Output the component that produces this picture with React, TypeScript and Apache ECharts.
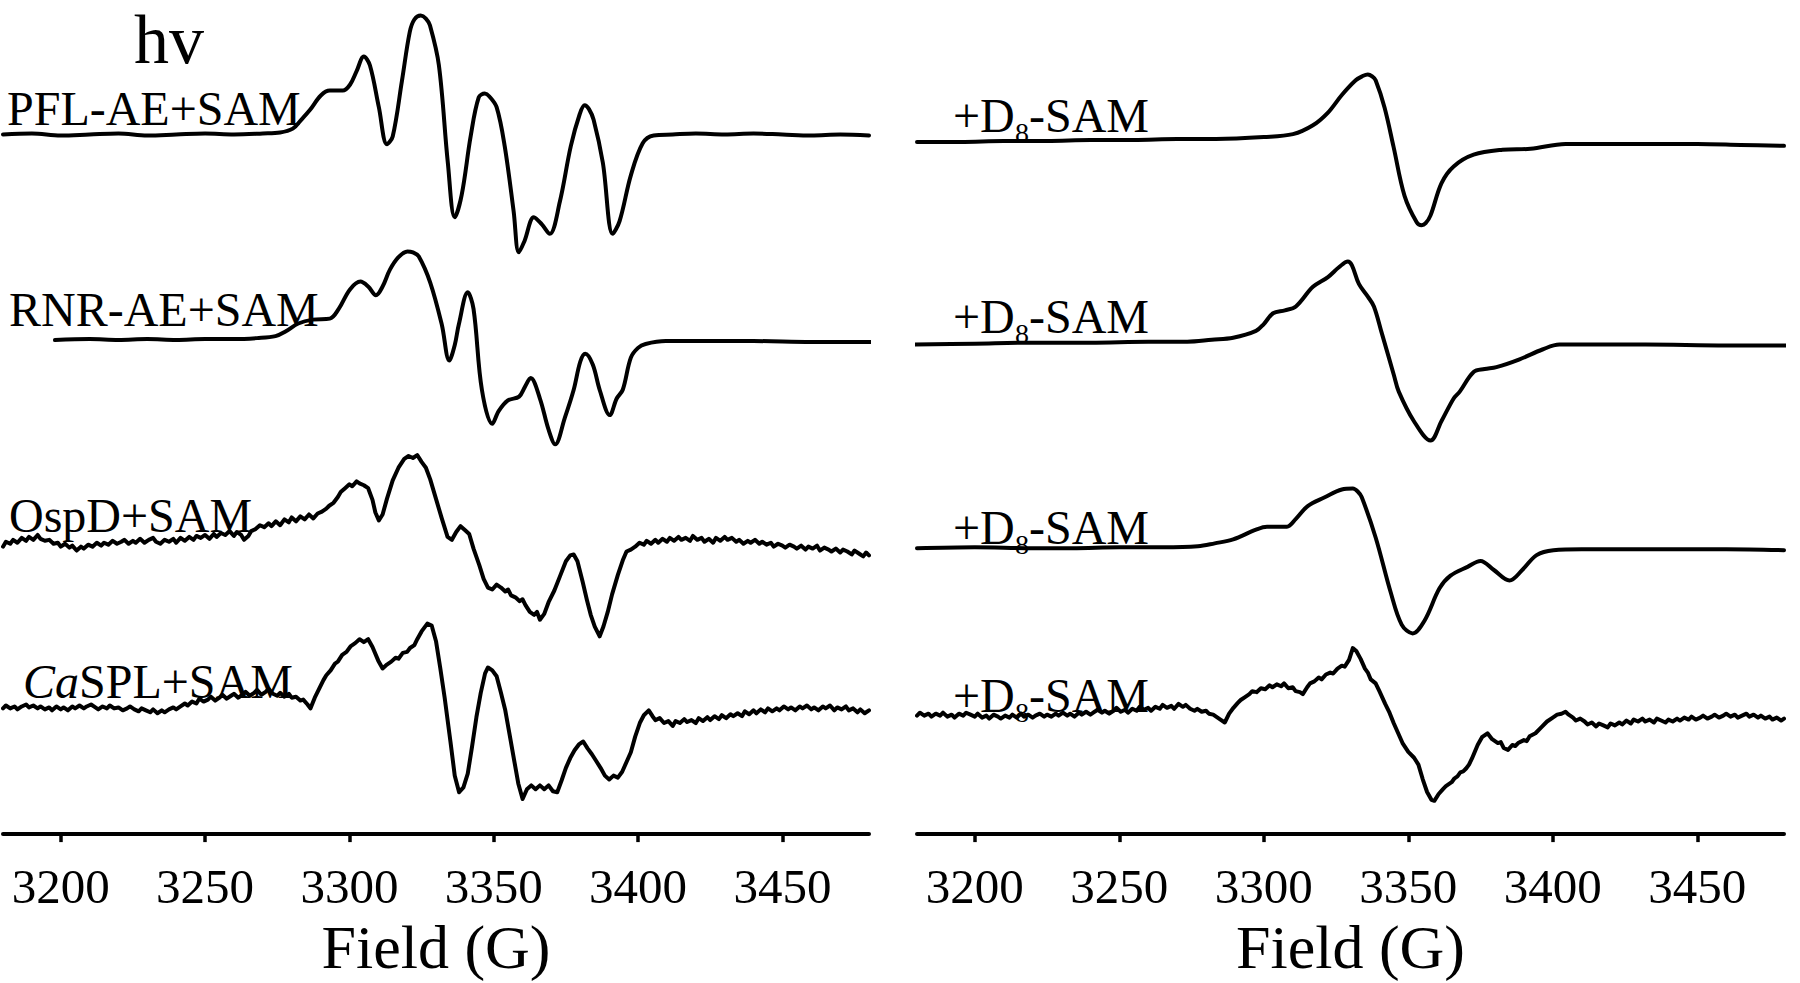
import React, { useEffect, useRef } from "react";
import * as echarts from "echarts";

// ---------- data ----------
const fieldMin = 3180;
const fieldMax = 3480;
const tickValues = [3200, 3250, 3300, 3350, 3400, 3450];
const axisTitle = "Field (G)";
const panelTitle = "hv";

const leftLabels = ["PFL-AE+SAM", "RNR-AE+SAM", "OspD+SAM", "SPL+SAM"];
const leftItalicPrefix = ["", "", "", "Ca"];
const rightLabelParts = ["+D", "8", "-SAM"];

// signal (arbitrary units) vs field (G)
const pflAe = [
  [3180, 0], [3190, 1], [3200, -1], [3210, 0], [3220, 1], [3230, -1], [3240, 0], [3250, 1], [3260, 0], [3270, 1],
  [3276, 2], [3280.4, 6], [3283, 14], [3286.3, 25], [3290.1, 40], [3293.2, 45], [3297.7, 45], [3300.2, 51],
  [3302.5, 65], [3305, 80], [3307.1, 71], [3310.2, 28], [3313, -10], [3315, -2], [3318.2, 55], [3320.9, 105],
  [3322.5, 118], [3324.7, 122], [3326.5, 119], [3327.9, 112], [3331, 71], [3334.1, -29], [3336.5, -85],
  [3338.9, -62], [3342, -2], [3344.8, 38], [3346.9, 42], [3348.5, 39], [3351, 28], [3353.8, -12], [3356.9, -79],
  [3358.7, -121], [3360.7, -109], [3363.9, -85], [3366.6, -92], [3369.4, -102], [3372.9, -69], [3376.7, -12],
  [3379.8, 21], [3381.5, 30], [3383, 26], [3384.6, 15], [3387.8, -29], [3391.2, -102], [3393.6, -89],
  [3397.5, -42], [3401.6, -9], [3405.4, -1], [3412, 0], [3420, 1], [3430, 0], [3440, 1], [3450, 0], [3460, -1],
  [3470, 0], [3480, -1],
];

const rnrAe = [
  [3198, 0], [3210, 1], [3220, 0], [3230, 1], [3240, 0], [3250, 1], [3260, 1], [3268, 2], [3274.4, 4], [3278, 9],
  [3282.3, 17], [3287.3, 21], [3293.2, 22], [3296.3, 32], [3300.2, 52], [3303.8, 60], [3306.5, 55], [3309.2, 46],
  [3311.5, 55], [3314, 72], [3317, 85], [3320.1, 91], [3322, 90], [3324, 86], [3328, 59], [3332, 16],
  [3334.6, -21], [3336.5, -5], [3337.9, 16], [3341, 49], [3343, 32], [3345.9, -51], [3349.5, -86], [3351.7, -73],
  [3354.9, -62], [3358.8, -58], [3360.8, -48], [3362.8, -39], [3366, -60], [3369, -92], [3371.3, -107],
  [3374.6, -80], [3377.7, -51], [3380, -22], [3381.7, -14], [3384.3, -25], [3386.7, -51], [3390.2, -77],
  [3392.6, -60], [3394.7, -51], [3397.5, -18], [3400, -8], [3402.6, -4], [3409.6, -1], [3420, -1], [3440, -1],
  [3460, -2], [3483, -2],
];

const ospD = [
  [3180, -3], [3181, 2], [3182.5, 0], [3183.5, 4], [3185, 1], [3186.5, 6], [3188, 3], [3189, 7], [3190.5, 4],
  [3192, 9], [3193, 5], [3194.5, 3], [3196, 4], [3197.5, 0], [3199, 1], [3200, -3], [3201.5, 0], [3203, -4],
  [3204, -2], [3205.5, -7], [3207, -3], [3208, -5], [3209.5, -1], [3211, -3], [3212.5, 1], [3214, -2], [3215, 1],
  [3216.5, -1], [3218, 3], [3219.5, 0], [3221, 2], [3222, 4], [3223.5, 0], [3225, 3], [3226, 1], [3227.5, 5],
  [3229, 1], [3230.5, 4], [3232, 6], [3233, 2], [3234.5, 0], [3236, 4], [3237.5, 2], [3239, 5], [3240, 1],
  [3241.5, 6], [3243, 3], [3244.5, 7], [3246, 4], [3247, 8], [3248.5, 6], [3250, 9], [3251.5, 5], [3253, 10],
  [3254, 7], [3255.5, 11], [3257, 9], [3258.5, 13], [3260, 8], [3261, 12], [3262.5, 9], [3263.5, 4], [3265, 8],
  [3266, 13], [3267.5, 15], [3269, 19], [3270.5, 17], [3272, 21], [3273, 18], [3274.5, 23], [3276, 19],
  [3277.5, 25], [3279, 22], [3280, 27], [3281.5, 23], [3283, 28], [3284.5, 25], [3286, 30], [3287.5, 26],
  [3289, 31], [3290.5, 33], [3292, 36], [3293, 39], [3294.5, 42], [3296, 48], [3297, 53], [3298.5, 57],
  [3300, 61], [3301, 59], [3302.5, 64], [3303.5, 62], [3305, 60], [3306.5, 57], [3308, 45], [3309, 32],
  [3310.2, 24], [3311.5, 30], [3313, 46], [3315, 65], [3317, 78], [3319, 87], [3320.5, 90], [3322, 88],
  [3323.5, 91], [3325, 84], [3326.5, 78], [3328, 66], [3330, 46], [3332, 26], [3334, 7], [3335.5, 4], [3337, 12],
  [3338.5, 18], [3340, 14], [3341.5, 10], [3343, -5], [3345, -22], [3346.5, -36], [3348, -45], [3349.5, -47],
  [3351, -42], [3352.5, -45], [3354, -49], [3355, -47], [3356, -53], [3357.5, -55], [3359, -59], [3360, -57],
  [3361, -63], [3362.5, -70], [3364, -73], [3365, -70], [3366, -78], [3367.5, -72], [3369, -60], [3371, -48],
  [3373, -33], [3375, -18], [3376.5, -12], [3377.7, -11], [3379, -18], [3380.8, -39], [3382.3, -58],
  [3383.6, -73], [3385, -85], [3386.7, -95], [3388, -85], [3389.5, -70], [3391, -52], [3393, -32], [3394.7, -17],
  [3396, -8], [3397.5, -6], [3399, -3], [3400.5, 1], [3402, -1], [3403, 3], [3404.5, 0], [3406, 4], [3407, 1],
  [3408.5, 5], [3410, 2], [3411, 6], [3412.5, 3], [3414, 7], [3415, 4], [3416.5, 6], [3418, 3], [3419, 8],
  [3420.5, 4], [3422, 6], [3423, 2], [3424.5, 5], [3426, 1], [3427, 6], [3428.5, 3], [3430, 7], [3431, 4],
  [3432.5, 6], [3434, 2], [3435, 4], [3436.5, 0], [3438, 3], [3439, 1], [3440.5, 4], [3442, 0], [3443, 2],
  [3444.5, -1], [3446, 1], [3447, -3], [3448.5, 0], [3450, -2], [3451, -4], [3452.5, -1], [3454, -3], [3455, -5],
  [3456.5, -2], [3458, -6], [3459, -3], [3460.5, -5], [3462, -2], [3463, -7], [3464.5, -4], [3466, -6],
  [3467, -8], [3468.5, -5], [3470, -9], [3471, -6], [3472.5, -8], [3474, -11], [3475, -7], [3476.5, -10],
  [3478, -13], [3479, -9], [3480, -12],
];

const caSpl = [
  [3180, -1], [3181, 2], [3182.5, -1], [3184, 1], [3185, -2], [3186.5, 1], [3188, 3], [3189, 0], [3190.5, 2],
  [3192, -1], [3193, 1], [3194.5, -2], [3196, 0], [3197, -3], [3198.5, 1], [3200, -2], [3201, 0], [3202.5, -3],
  [3204, 1], [3205, -1], [3206.5, 2], [3208, -1], [3209, 1], [3210.5, 3], [3212, 0], [3213, -2], [3214.5, 1],
  [3216, -1], [3217, 2], [3218.5, -1], [3220, 0], [3221.5, -3], [3223, -1], [3224, 1], [3225.5, -2], [3227, -4],
  [3228, -1], [3229.5, -3], [3231, -5], [3232, -2], [3233.5, -6], [3235, -3], [3236, -5], [3237.5, -2],
  [3239, 0], [3240, -2], [3241.5, 1], [3243, 4], [3244, 2], [3245.5, 6], [3247, 4], [3248, 9], [3249.5, 6],
  [3251, 8], [3252, 11], [3253.5, 7], [3255, 10], [3256, 13], [3257.5, 9], [3259, 12], [3260, 14], [3261.5, 10],
  [3263, 13], [3264, 16], [3265.5, 12], [3267, 15], [3268, 18], [3269.5, 13], [3271, 16], [3272, 19],
  [3273.5, 14], [3275, 12], [3276, 15], [3277.5, 11], [3279, 14], [3280, 10], [3281.5, 11], [3283, 7], [3284, 8],
  [3285.5, 3], [3286.5, -1], [3288, 10], [3289.5, 19], [3291, 28], [3292, 33], [3293.5, 38], [3295, 45],
  [3296, 47], [3297.5, 54], [3299, 57], [3300.5, 63], [3302, 66], [3303.5, 70], [3305, 67], [3306.5, 70],
  [3308, 62], [3310, 48], [3311.5, 40], [3313, 44], [3314.5, 47], [3316, 51], [3317, 50], [3318.5, 56],
  [3320, 57], [3321, 61], [3322.5, 64], [3323.5, 70], [3325, 78], [3327, 86], [3328.5, 84], [3330, 68],
  [3331.5, 40], [3333, 10], [3335, -35], [3336.5, -70], [3338, -87], [3339.5, -82], [3341, -68], [3342.5, -40],
  [3344, -10], [3345.5, 15], [3347, 35], [3348, 41], [3349.5, 38], [3351, 32], [3352.5, 15], [3354, -3],
  [3355.5, -28], [3357, -53], [3358.5, -78], [3360, -94], [3361.5, -84], [3363, -80], [3364.5, -84], [3366, -80],
  [3367.5, -84], [3369, -80], [3370.5, -86], [3372, -87], [3373.5, -75], [3375, -62], [3376.5, -52], [3378, -44],
  [3379.5, -38], [3381, -35], [3382.5, -42], [3384, -48], [3385.5, -55], [3387, -62], [3388.5, -70], [3390, -74],
  [3391.5, -70], [3393, -72], [3394.5, -66], [3396, -56], [3397.5, -46], [3399, -30], [3400.6, -16], [3402, -8],
  [3403.7, -3], [3405, -9], [3406, -13], [3407.5, -11], [3409, -16], [3410.5, -14], [3412, -19], [3413, -14],
  [3414.5, -16], [3416, -12], [3417, -15], [3418.5, -13], [3420, -16], [3421, -11], [3422.5, -14], [3424, -10],
  [3425, -13], [3426.5, -9], [3428, -12], [3429, -8], [3430.5, -11], [3432, -7], [3433, -9], [3434.5, -6],
  [3436, -9], [3437, -4], [3438.5, -7], [3440, -3], [3441, -6], [3442.5, -2], [3444, -5], [3445, -1],
  [3446.5, -4], [3448, -1], [3449, -3], [3450.5, 1], [3452, -2], [3453, 0], [3454.5, -3], [3456, 1], [3457, -1],
  [3458.5, 2], [3460, -2], [3461, 0], [3462.5, -3], [3464, 1], [3465, -1], [3466.5, 2], [3468, -3], [3469, 0],
  [3470.5, -2], [3472, 1], [3473, -3], [3474.5, -1], [3476, -5], [3477, -2], [3478.5, -6], [3480, -3],
];

const d8Pfl = [
  [3180, 2], [3195, 2], [3210, 3], [3225, 3], [3240, 4], [3255, 4], [3270, 5], [3283.5, 5], [3300, 7], [3310.1, 10],
  [3317, 19], [3322.2, 32], [3327, 50], [3331.8, 65], [3334, 69], [3336, 71], [3337.5, 69], [3338.7, 65],
  [3341.8, 37], [3344.9, -3], [3348.7, -53], [3352.9, -80], [3354.6, -83], [3356, -81], [3357.7, -73],
  [3361.5, -40], [3365.7, -23], [3372.6, -11], [3382.6, -6], [3392.3, -5], [3404.4, 0], [3420, 0], [3432, 0],
  [3450, 0], [3465, -1], [3480, -2],
];

const d8Rnr = [
  [3179, -1], [3200, 0], [3220, 1], [3240, 1], [3260, 2], [3273.5, 2], [3282, 4], [3289.4, 6], [3297.3, 13],
  [3300, 20], [3303.2, 31], [3307.3, 34], [3311.1, 38], [3317, 58], [3322.2, 68], [3326, 78], [3329.1, 84],
  [3330.5, 80], [3332.9, 61], [3336, 48], [3338.1, 38], [3340.8, 11], [3345, -32], [3346.7, -49], [3351.9, -79],
  [3357.7, -99], [3361.5, -79], [3365.7, -56], [3367.8, -49], [3372.6, -29], [3376.4, -26], [3380.5, -24],
  [3388.5, -16], [3396.4, -6], [3402.3, -1], [3432, -1], [3460, -2], [3483.7, -2],
];

const d8Osp = [
  [3180, 0], [3200, 1], [3220, 0], [3233.7, 0], [3250, 1], [3265, 1], [3277.2, 2], [3283, 5], [3289.4, 9],
  [3297.3, 19], [3301.1, 22], [3304, 22], [3308, 22], [3311.1, 30], [3315.2, 43], [3321.1, 52], [3327, 60],
  [3330.8, 61], [3332.5, 58], [3333.9, 52], [3338.7, 11], [3343.9, -45], [3347.7, -78], [3351.5, -87],
  [3355.6, -74], [3360.8, -41], [3364.6, -28], [3370.5, -19], [3375, -13], [3379.5, -22], [3385, -33],
  [3389.5, -22], [3394.4, -7], [3400.2, -2], [3410, -1], [3432, -1], [3460, -1], [3480, -2],
];

const d8Spl = [
  [3180, 0], [3181, 3], [3182.5, 0], [3184, 2], [3185, -1], [3186.5, 2], [3188, 0], [3189, 3], [3190.5, -1],
  [3192, 1], [3193, -2], [3194.5, 2], [3196, 0], [3197, 3], [3198.5, 1], [3200, -1], [3201, 2], [3202.5, -2],
  [3204, 0], [3205, -3], [3206.5, 1], [3208, -1], [3209, -3], [3210.5, 0], [3212, -2], [3213, 1], [3214.5, -2],
  [3216, 2], [3217, -1], [3218.5, 1], [3220, -2], [3221, 0], [3222.5, 2], [3224, -1], [3225, 1], [3226.5, -1],
  [3228, 2], [3229, 0], [3230.5, 3], [3232, 0], [3233, 2], [3234.5, -1], [3236, 3], [3237, 1], [3238.5, 4],
  [3240, 1], [3241, 3], [3242.5, 6], [3244, 3], [3245, 5], [3246.5, 2], [3248, 5], [3249, 8], [3250.5, 4],
  [3252, 6], [3253, 3], [3254.5, 7], [3256, 5], [3257, 9], [3258.5, 6], [3260, 8], [3261, 5], [3262.5, 9],
  [3264, 7], [3265, 11], [3266.5, 8], [3268, 10], [3269, 7], [3270.5, 12], [3272, 9], [3273, 11], [3274.5, 7],
  [3276, 5], [3277, 7], [3278.5, 4], [3280, 5], [3281, 2], [3282.5, 1], [3284, -2], [3285, -4], [3286.5, -7],
  [3288, 2], [3289.5, 8], [3291, 13], [3292, 16], [3293.5, 19], [3295, 22], [3296, 25], [3297.5, 24], [3299, 28],
  [3300.5, 27], [3302, 31], [3303, 29], [3304.5, 32], [3306, 30], [3307, 33], [3308.5, 28], [3310, 29],
  [3311, 25], [3312.5, 24], [3313.5, 22], [3315, 29], [3316, 33], [3317.5, 35], [3319, 39], [3320, 37],
  [3321.5, 42], [3323, 44], [3324, 43], [3325.5, 48], [3327, 51], [3328, 50], [3329.5, 57], [3330.8, 69],
  [3332, 66], [3333.5, 58], [3335, 48], [3336, 44], [3337, 37], [3338.7, 33], [3340, 25], [3342, 12],
  [3343.5, 3], [3345, -8], [3346.5, -18], [3348, -28], [3350, -37], [3352, -43], [3353.5, -50], [3355, -65],
  [3356.5, -78], [3358, -86], [3359, -87], [3360.5, -80], [3362, -75], [3363, -72], [3364, -70], [3365, -68],
  [3366, -64], [3367, -62], [3368, -58], [3369, -57], [3370, -54], [3371, -50], [3372, -44], [3374, -30],
  [3375.5, -22], [3377.4, -18], [3379, -24], [3381, -28], [3382, -27], [3383, -33], [3384.5, -35], [3386, -30],
  [3387, -31], [3388, -28], [3390, -25], [3391, -26], [3392, -21], [3394, -18], [3396, -12], [3398, -6],
  [3400, -2], [3401.5, 1], [3403, 2], [3404.4, 4], [3405.5, 1], [3407, -2], [3408, -5], [3409.5, -3], [3411, -6],
  [3412, -9], [3413.5, -7], [3415, -11], [3416, -8], [3417.5, -10], [3419, -12], [3420, -8], [3421.5, -10],
  [3423, -7], [3424, -9], [3425.5, -5], [3427, -8], [3428, -4], [3429.5, -6], [3431, -3], [3432, -6],
  [3433.5, -4], [3435, -7], [3436, -3], [3437.5, -5], [3439, -7], [3440, -4], [3441.5, -6], [3443, -3],
  [3444, -5], [3445.5, -2], [3447, -4], [3448, -1], [3449.5, -4], [3451, -2], [3452, 0], [3453.5, -3],
  [3455, -1], [3456, 1], [3457.5, -2], [3459, 0], [3460, 2], [3461.5, -1], [3463, 1], [3464, -2], [3465.5, 0],
  [3467, 2], [3468, -1], [3469.5, 1], [3471, -2], [3472, 0], [3473.5, -3], [3475, -1], [3476, -4], [3477.5, -2],
  [3479, -5], [3480, -3],
];

const leftSeries = [pflAe, rnrAe, ospD, caSpl];
const rightSeries = [d8Pfl, d8Rnr, d8Osp, d8Spl];
const leftSmooth = [true, true, false, false];
const rightSmooth = [true, true, true, false];

// ---------- layout (pixels) ----------
const W = 1800;
const H = 983;
const FONT = "'Liberation Serif', 'Times New Roman', serif";
const panels = [
  { left: 3, width: 866, height: 856, baselines: [138, 349, 558, 726] },
  { left: 917, width: 867, height: 852, baselines: [147, 351, 560, 731] },
];
const leftLabelPos = [
  { x: 7, base: 125 },
  { x: 9, base: 326 },
  { x: 9, base: 532 },
  { x: 23, base: 698 },
];
const rightLabelBases = [132, 333, 544, 712];
const CENTRAL = 0.3375; // alphabetic baseline below central line, in em

function buildOption() {
  const grid: any[] = [];
  const xAxis: any[] = [];
  const yAxis: any[] = [];
  const series: any[] = [];
  panels.forEach((p, pi) => {
    grid.push({ left: p.left, width: p.width, top: 0, height: p.height, containLabel: false });
    xAxis.push({
      gridIndex: pi,
      type: "value",
      min: fieldMin,
      max: fieldMax,
      position: "bottom",
      axisLine: { show: true, onZero: false, lineStyle: { color: "#000", width: 4 } },
      axisTick: {
        show: true,
        customValues: tickValues,
        length: 8,
        lineStyle: { color: "#000", width: 3.5 },
      },
      axisLabel: {
        show: true,
        customValues: tickValues,
        formatter: (v: number) => String(v),
        margin: 28,
        fontSize: 49,
        fontFamily: FONT,
        color: "#000",
      },
      splitLine: { show: false },
      name: axisTitle,
      nameLocation: "middle",
      nameGap: 62,
      nameTextStyle: { fontSize: 62, fontFamily: FONT, color: "#000" },
    });
    const data = pi === 0 ? leftSeries : rightSeries;
    const smooth = pi === 0 ? leftSmooth : rightSmooth;
    p.baselines.forEach((b, ti) => {
      const yi = yAxis.length;
      yAxis.push({ gridIndex: pi, type: "value", min: b - p.height, max: b, show: false });
      series.push({
        type: "line",
        xAxisIndex: pi,
        yAxisIndex: yi,
        data: data[ti],
        showSymbol: false,
        symbol: "none",
        smooth: smooth[ti] ? 0.35 : false,
        clip: false,
        silent: true,
        lineStyle: { color: "#000", width: 4, cap: "round", join: "round" },
      });
    });
  });

  const graphic: any[] = [];
  graphic.push({
    type: "text",
    x: 169,
    y: 63 - CENTRAL * 70,
    style: { text: panelTitle, fontSize: 70, fontFamily: FONT, fill: "#000", align: "center", verticalAlign: "middle" },
  });
  leftLabels.forEach((t, i) => {
    const pos = leftLabelPos[i];
    const pre = leftItalicPrefix[i];
    graphic.push({
      type: "text",
      x: pos.x,
      y: pos.base - CENTRAL * 48,
      style: {
        text: pre ? `{i|${pre}}{n|${t}}` : `{n|${t}}`,
        rich: {
          i: { fontSize: 48, fontFamily: FONT, fontStyle: "italic", fill: "#000" },
          n: { fontSize: 48, fontFamily: FONT, fill: "#000" },
        },
        fontSize: 48,
        fontFamily: FONT,
        fill: "#000",
        align: "left",
        verticalAlign: "middle",
      },
    });
  });
  rightLabelBases.forEach((base) => {
    graphic.push({
      type: "text",
      x: 953,
      y: base - CENTRAL * 48,
      style: { text: rightLabelParts[0], fontSize: 48, fontFamily: FONT, fill: "#000", align: "left", verticalAlign: "middle" },
    });
    graphic.push({
      type: "text",
      x: 1015,
      y: base + 10 - CENTRAL * 28,
      style: { text: rightLabelParts[1], fontSize: 28, fontFamily: FONT, fill: "#000", align: "left", verticalAlign: "middle" },
    });
    graphic.push({
      type: "text",
      x: 1029,
      y: base - CENTRAL * 48,
      style: { text: rightLabelParts[2], fontSize: 48, fontFamily: FONT, fill: "#000", align: "left", verticalAlign: "middle" },
    });
  });

  return {
    animation: false,
    backgroundColor: "#fff",
    grid,
    xAxis,
    yAxis,
    series,
    graphic,
  };
}

export default function App() {
  const ref = useRef<HTMLDivElement | null>(null);
  useEffect(() => {
    if (!ref.current) return;
    const chart = echarts.init(ref.current, undefined, { renderer: "svg", width: W, height: H });
    chart.setOption(buildOption() as any);
    return () => chart.dispose();
  }, []);
  return (
    <div
      ref={ref}
      style={{ position: "absolute", left: 0, top: 0, width: W, height: H, background: "#fff" }}
    />
  );
}
